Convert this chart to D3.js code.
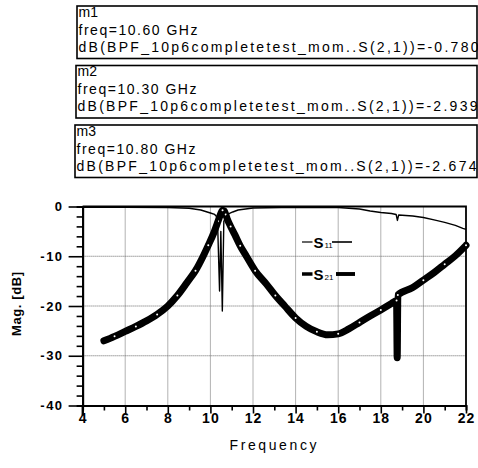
<!DOCTYPE html>
<html>
<head>
<meta charset="utf-8">
<script src="https://cdn.jsdelivr.net/npm/d3@7"></script>
<style>
  body { margin: 0; background: #fff; }
  svg { display: block; font-family: "Liberation Sans", Arial, sans-serif; }
</style>
</head>
<body>
<div id="chart"></div>
<script>
const w = 478
const h = 468

// --- Data ---

// S11 trace (freq GHz, dB)
const s11Freq = [4, 6, 8, 9, 9.55, 10.0, 10.2, 10.33, 10.43, 10.49, 10.56, 10.63, 10.8, 11.05, 11.3, 12, 14, 16, 17, 17.5, 18, 18.5, 18.72, 18.78, 18.84, 19.5, 20, 20.5, 21, 21.5, 21.85, 22]
const s11Mag  = [-0.15, -0.15, -0.2, -0.35, -0.7, -1.3, -1.6, -2.2, -17, -5, -21, -3, -1.6, -1.1, -0.7, -0.3, -0.15, -0.2, -0.5, -0.9, -1.2, -1.4, -1.6, -2.8, -1.7, -1.9, -2.2, -2.7, -3.2, -3.8, -4.4, -4.6]

// S21 trace (freq GHz, dB)
const s21Freq = [5.0, 5.5, 6, 6.5, 7, 7.5, 8, 8.45, 8.9, 9.3, 9.66, 9.9, 10.15, 10.36, 10.48, 10.57, 10.65, 10.72, 10.8, 10.95, 11.14, 11.4, 11.69, 12.1, 12.63, 13.05, 13.49, 14, 14.5, 15, 15.5, 16, 16.5, 17, 17.5, 18, 18.5, 18.74, 18.77, 18.8, 19.5, 20, 20.5, 21, 21.5, 22]
const s21Mag  = [-27, -26.1, -25.1, -24.1, -23, -21.7, -20, -17.9, -15.3, -12.9, -10, -7.8, -5.4, -2.94, -1.5, -0.75, -0.9, -1.6, -2.6, -4.0, -5.6, -7.9, -10, -12.9, -15.6, -17.9, -20, -22.4, -24.1, -25.2, -25.8, -25.6, -24.6, -23.3, -22, -20.8, -19.5, -18.9, -30.4, -17.8, -16.3, -14.8, -13.3, -11.6, -9.9, -7.8]

// Axis ticks
const xMajor = [4, 6, 8, 10, 12, 14, 16, 18, 20, 22]
const xMinor = [5, 7, 9, 11, 13, 15, 17, 19, 21]
const yMajor = [0, -10, -20, -30, -40]
const yMinor = [-2, -4, -6, -8, -12, -14, -16, -18, -22, -24, -26, -28, -32, -34, -36, -38]

// Marker readouts
const markerNames = ["m1", "m2", "m3"]
const markerFreqs = ["10.60", "10.30", "10.80"]
const markerVals  = ["-0.780", "-2.939", "-2.674"]

// Legend
const legendNames = ["S", "S"]
const legendSubs  = ["11", "21"]

// --- Svg ---
const svg = d3.select("#chart")
              .append("svg")
                .attr("width", w)
                .attr("height", h)

const x = d3.scaleLinear().domain([4, 22]).range([82.6, 466])
const y = d3.scaleLinear().domain([-40, 0]).range([405.5, 206.5])

// Grid (dotted)
svg.append("g")
   .selectAll("line.vg")
   .data(xMajor.filter(d => d > 4 && d < 22))
   .join("line")
     .attr("x1", d => x(d)).attr("x2", d => x(d))
     .attr("y1", y(0)).attr("y2", y(-40))
     .attr("stroke", "#666")
     .attr("stroke-width", 1)
     .attr("stroke-dasharray", "1,1")
svg.append("g")
   .selectAll("line.hg")
   .data(yMajor.filter(d => d < 0 && d > -40))
   .join("line")
     .attr("x1", x(4)).attr("x2", x(22))
     .attr("y1", d => y(d)).attr("y2", d => y(d))
     .attr("stroke", "#666")
     .attr("stroke-width", 1)
     .attr("stroke-dasharray", "1,1")

// Border top/right
svg.append("path")
   .attr("d", `M${x(4)},${y(0)}H${x(22)}V${y(-40)}`)
   .attr("fill", "none")
   .attr("stroke", "#000")
   .attr("stroke-width", 1.8)

// Axes
const styleAxis = g => {
  g.select(".domain").attr("stroke-width", 2)
  g.selectAll(".tick line").attr("stroke-width", 1.6)
  g.selectAll("text")
   .attr("font-family", "Liberation Sans, Arial, sans-serif")
   .attr("font-weight", "bold")
   .attr("fill", "#000")
}

// x minor
svg.append("g")
   .attr("transform", `translate(0, ${y(-40)})`)
   .call(d3.axisBottom(x).tickValues(xMinor).tickSize(5).tickFormat(""))
   .call(styleAxis)
// x major
svg.append("g")
   .attr("transform", `translate(0, ${y(-40)})`)
   .call(d3.axisBottom(x).tickValues(xMajor).tickSize(8).tickSizeOuter(0).tickPadding(0))
   .call(styleAxis)
   .call(g => g.selectAll("text").attr("font-size", 14).attr("letter-spacing", 1))

// y minor
svg.append("g")
   .attr("transform", `translate(${x(4)}, 0)`)
   .call(d3.axisLeft(y).tickValues(yMinor).tickSize(6).tickFormat(""))
   .call(styleAxis)
// y major
svg.append("g")
   .attr("transform", `translate(${x(4)}, 0)`)
   .call(d3.axisLeft(y).tickValues(yMajor).tickSize(14).tickSizeOuter(0).tickPadding(5)
           .tickFormat(d => d3.format("d")(d).replace("\u2212", "-")))
   .call(styleAxis)
   .call(g => g.selectAll("text").attr("font-size", 13).attr("letter-spacing", 1.5))

// y axis extends slightly below
svg.append("line")
   .attr("x1", x(4)).attr("x2", x(4))
   .attr("y1", y(-40)).attr("y2", y(-40) + 10)
   .attr("stroke", "#000").attr("stroke-width", 2)

// --- Traces ---
const s11 = s11Freq.map((f, i) => [f, s11Mag[i]])
const s21 = s21Freq.map((f, i) => [f, s21Mag[i]])

const line11 = d3.line().x(d => x(d[0])).y(d => y(d[1]))
const line21 = d3.line().x(d => x(d[0])).y(d => y(d[1])).curve(d3.curveMonotoneX)

svg.append("path")
   .datum(s21)
   .attr("d", line21)
   .attr("fill", "none")
   .attr("stroke", "#000")
   .attr("stroke-width", 7)
   .attr("stroke-linejoin", "round")
   .attr("stroke-linecap", "round")

// marker speckles on S21
svg.append("g")
   .selectAll("circle")
   .data(s21.filter((d, i) => i % 2 === 1))
   .join("circle")
     .attr("cx", d => x(d[0]))
     .attr("cy", d => y(d[1]))
     .attr("r", 1)
     .attr("fill", "#fff")

svg.append("path")
   .datum(s11)
   .attr("d", line11)
   .attr("fill", "none")
   .attr("stroke", "#000")
   .attr("stroke-width", 1.4)
   .attr("stroke-linejoin", "round")

// --- Legend ---
const legendY = [242, 274]
const legendW = [1.2, 3.5]
legendNames.forEach((name, i) => {
  const g = svg.append("g")
  g.append("line")
   .attr("x1", 302).attr("x2", 312.5)
   .attr("y1", legendY[i]).attr("y2", legendY[i])
   .attr("stroke", "#000").attr("stroke-width", legendW[i])
  const t = g.append("text")
             .attr("x", 313.5)
             .attr("y", legendY[i] + 5.5)
             .attr("font-size", 15)
             .attr("font-weight", "bold")
  t.append("tspan").text(name)
  t.append("tspan")
   .attr("font-size", 8)
   .attr("font-weight", "normal")
   .attr("dx", 1)
   .attr("dy", 0.5)
   .text(legendSubs[i])
  g.append("line")
   .attr("x1", 332 + i * 4).attr("x2", 352 + i * 3)
   .attr("y1", legendY[i]).attr("y2", legendY[i])
   .attr("stroke", "#000").attr("stroke-width", legendW[i] + 0.4)
})

// --- Axis titles ---
svg.append("text")
   .attr("x", 273)
   .attr("y", 450)
   .attr("text-anchor", "middle")
   .attr("font-size", 14)
   .attr("textLength", 87)
   .attr("lengthAdjust", "spacing")
   .text("Frequency")

svg.append("text")
   .attr("transform", "translate(21, 304) rotate(-90)")
   .attr("text-anchor", "middle")
   .attr("font-size", 13)
   .attr("font-weight", "bold")
   .attr("textLength", 64)
   .attr("lengthAdjust", "spacing")
   .text("Mag. [dB]")

// --- Marker readout boxes ---
const boxTop = [6, 65.5, 125]
const boxLeft = [77, 76, 75]
markerNames.forEach((m, i) => {
  const g = svg.append("g")
  g.append("rect")
   .attr("x", boxLeft[i])
   .attr("y", boxTop[i])
   .attr("width", 477 - boxLeft[i])
   .attr("height", 52.5)
   .attr("fill", "#fff")
   .attr("stroke", "#000")
   .attr("stroke-width", 1.6)
  const tx = boxLeft[i] + 1.5
  g.append("text")
   .attr("x", tx).attr("y", boxTop[i] + 10.5)
   .attr("font-size", 14)
   .text(m)
  g.append("text")
   .attr("x", tx).attr("y", boxTop[i] + 28.5)
   .attr("font-size", 14)
   .attr("textLength", 119)
   .attr("lengthAdjust", "spacing")
   .text(`freq=${markerFreqs[i]} GHz`)
  g.append("text")
   .attr("x", tx).attr("y", boxTop[i] + 45.5)
   .attr("font-size", 14)
   .attr("textLength", 400)
   .attr("lengthAdjust", "spacing")
   .text(`dB(BPF_10p6completetest_mom..S(2,1))=${markerVals[i]}`)
})
</script>
</body>
</html>
